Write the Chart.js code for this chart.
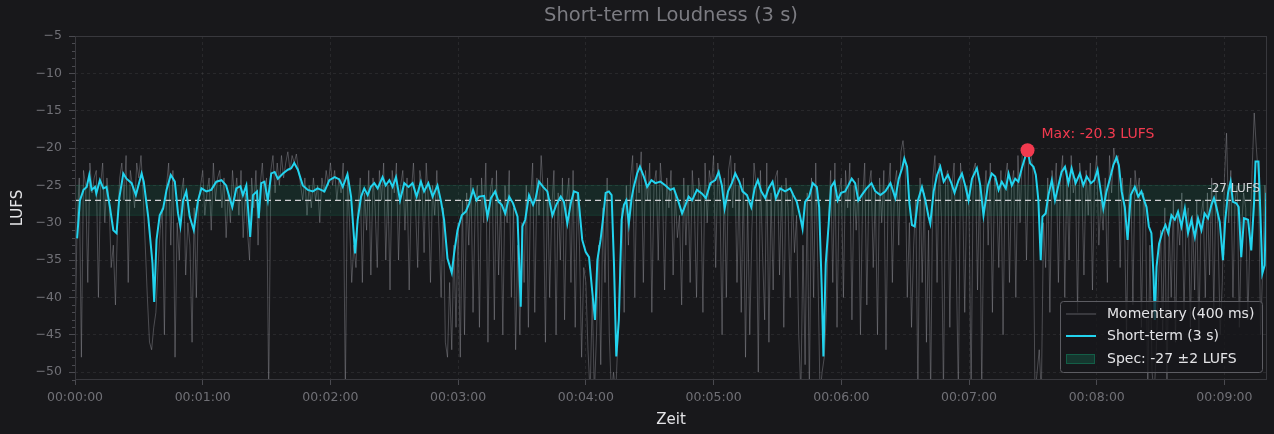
<!DOCTYPE html>
<html>
<head>
<meta charset="utf-8">
<script src="https://cdn.jsdelivr.net/npm/chart.js@4.4.0/dist/chart.umd.min.js"></script>
<style>
  html, body { margin: 0; padding: 0; background: #18181b; }
  canvas { display: block; }
</style>
</head>
<body>
<canvas id="chart" width="1274" height="434"></canvas>
<script>
// x axis in seconds, y axis in LUFS
var xTicks = [0, 60, 120, 180, 240, 300, 360, 420, 480, 540];
var yTicks = [-50, -45, -40, -35, -30, -25, -20, -15, -10, -5];
var xMax = 560;
var yMin = -51.05, yMax = -5;

var target = -27;
var tolerance = 2;

// momentary loudness, one value per second starting at 0 s
var momStep = 1;
var momentary = [
  -46,-30,-24,-48,-23,-25,-38,-22,-26,-24,
  -23,-40,-25,-22,-30,-24,-27,-36,-33,-41,
  -30,-24,-22,-27,-21,-38,-23,-25,-28,-22,
  -24,-21,-26,-33,-40,-46,-47,-44,-42,-36,
  -31,-28,-45,-25,-22,-33,-23,-48,-30,-35,
  -26,-24,-37,-30,-33,-46,-28,-40,-27,-25,
  -23,-29,-26,-24,-31,-22,-27,-24,-23,-28,
  -24,-32,-26,-30,-23,-27,-24,-29,-23,-32,
  -26,-31,-35,-24,-28,-23,-33,-25,-22,-27,
  -24,-53,-23,-21,-26,-22,-25,-21,-24,-22,
  -20.5,-23,-21,-22,-20.8,-23,-25,-27,-24,-29,
  -25,-28,-24,-27,-25,-30,-24,-26,-23,-25,
  -22,-25,-23,-27,-24,-26,-22,-53,-24,-30,
  -38,-33,-36,-28,-24,-38,-26,-31,-23,-37,
  -24,-28,-36,-23,-27,-22,-35,-25,-39,-23,
  -26,-22,-35,-25,-23,-31,-24,-39,-26,-22,
  -28,-36,-23,-25,-34,-22,-27,-38,-25,-29,
  -23,-31,-40,-28,-46,-48,-38,-47,-33,-44,
  -30,-48,-27,-45,-26,-33,-24,-42,-28,-25,
  -44,-24,-30,-22,-46,-26,-24,-43,-23,-37,
  -27,-45,-25,-30,-23,-40,-28,-47,-33,-45,
  -30,-38,-25,-44,-27,-22,-42,-24,-29,-21,
  -26,-46,-24,-40,-28,-23,-45,-26,-35,-24,
  -43,-27,-24,-38,-23,-44,-26,-33,-48,-36,
  -38,-47,-53,-40,-53,-45,-33,-49,-28,-38,
  -24,-45,-53,-50,-53,-46,-36,-28,-42,-25,
  -33,-24,-21,-40,-22,-26,-20.5,-38,-23,-27,
  -22,-42,-25,-23,-35,-22,-26,-39,-24,-28,
  -23,-37,-26,-32,-29,-41,-24,-33,-25,-38,
  -23,-28,-40,-24,-26,-42,-22,-30,-23,-25,
  -21,-36,-22,-27,-45,-24,-40,-23,-21,-28,
  -22,-38,-25,-42,-24,-48,-27,-45,-31,-22,
  -25,-50,-23,-34,-43,-22,-46,-26,-39,-24,
  -23,-37,-25,-44,-24,-28,-40,-26,-34,-29,
  -45,-53,-33,-49,-26,-53,-24,-40,-22,-36,
  -53,-50,-48,-42,-30,-23,-38,-22,-44,-26,
  -24,-40,-23,-28,-22,-43,-25,-31,-24,-45,
  -27,-22,-41,-25,-23,-36,-26,-45,-24,-30,
  -23,-47,-26,-22,-38,-25,-23,-33,-20.5,-19,
  -22,-40,-30,-44,-33,-27,-53,-24,-38,-26,
  -46,-31,-53,-24,-21,-38,-22,-29,-53,-24,
  -23,-44,-25,-22,-35,-53,-22,-26,-42,-25,
  -28,-53,-23,-22,-39,-24,-53,-27,-23,-33,
  -22,-42,-24,-26,-36,-23,-45,-24,-22,-38,
  -25,-23,-40,-21,-30,-21,-19.5,-35,-22,-20.5,
  -23,-53,-50,-47,-53,-30,-36,-24,-42,-23,
  -26,-22,-38,-24,-21,-40,-23,-35,-21,-26,
  -24,-42,-22,-25,-37,-23,-29,-22,-39,-24,
  -21,-33,-27,-31,-24,-38,-21,-26,-20,-22,
  -21,-36,-24,-29,-45,-27,-24,-41,-23,-26,
  -24,-44,-26,-30,-53,-33,-50,-53,-47,-38,
  -31,-45,-28,-53,-30,-40,-27,-46,-29,-33,
  -26,-42,-30,-28,-44,-29,-39,-27,-45,-29,
  -27,-40,-26,-37,-24,-42,-25,-31,-45,-38,
  -24,-18,-30,-23,-40,-27,-25,-44,-31,-26,
  -28,-43,-32,-23,-15.3,-20,-24,-45,-36,-25,
  -28
];

// short-term loudness (3 s window)
var stTime = [
  1, 2.3, 4, 5.5, 6.7, 7.8, 9.4, 10, 11.7, 13.3, 14.8, 16.4, 18, 19.5, 20.8, 22.7, 24.2, 26.6, 28.6, 31.3,
  32.3, 34.4, 36.4, 37.2, 38.3, 39.8, 41.4, 43, 45, 46.9, 48.4, 49.5, 50.8, 52.3, 53.9, 55.8, 57.8, 59.4, 61.7, 64,
  66.4, 68.8, 71, 73.9, 75.8, 77.7, 78.9, 80.5, 82.3, 83.6, 85.5, 86.3, 87.5, 89, 90.6, 92.2, 93.8, 95.3, 97.7, 100,
  101.6, 103, 104.7, 107, 109.4, 111.7, 114, 117.2, 119.5, 122, 124.2, 125.8, 128, 129.7, 131.6, 132.8, 134.4, 135.9, 137.5, 139,
  140.6, 142.2, 144.5, 146, 147.7, 149.2, 150.8, 152.7, 154.7, 156.7, 158.6, 160.5, 162.5, 164, 166, 168, 170.3, 172, 173.4, 175,
  177, 178.1, 179.7, 181.7, 183.6, 185.2, 187, 188.6, 189.8, 192.2, 193.8, 195.4, 197.4, 199, 200.5, 202.1, 204, 205.8, 207.9, 209.4,
  210.2, 211.5, 213.3, 215.2, 216.4, 218, 219.9, 221.9, 224.3, 226.1, 228.2, 229.7, 231.3, 232.9, 234.4, 236.3, 238.3, 239.9, 241.5, 243,
  244.3, 245.4, 246.9, 248, 249.3, 250.8, 252.1, 253.2, 254.3, 255.5, 256.8, 257.9, 259, 260.2, 261.5, 262.5, 264.1, 265.4, 267.2, 268.8,
  270.8, 272.7, 275, 277.4, 279.7, 281.3, 283.3, 285.2, 286.8, 288.3, 289.9, 292.2, 294.6, 296.4, 298.5, 300.8, 302.4, 303.9, 305.2, 306.8,
  308.6, 310.2, 312.1, 313.6, 315.7, 317.7, 319.3, 320.8, 322.4, 324.3, 325.8, 327.7, 329.3, 331.3, 333.6, 336, 337.5, 339.1, 340.7, 341.8,
  343, 344.9, 346.6, 348.5, 349.6, 350.8, 351.6, 352.7, 354, 355.2, 356.8, 358.3, 359.9, 361.8, 363.3, 364.9, 366.5, 368, 369.6, 371.9,
  374.2, 376, 378.4, 380.7, 383.1, 385.4, 387, 388.6, 389.6, 390.9, 392, 393.2, 394.5, 396, 397.9, 399.5, 401, 401.8, 403.4, 405,
  406.5, 408.1, 410.1, 411.7, 413.2, 415.1, 416.7, 418.2, 419.8, 421.4, 423.7, 425.3, 426.8, 428.9, 430.7, 432.3, 433.9, 435.4, 437.3, 438.6,
  440.1, 441.7, 443.2, 444.8, 446.4, 447.5, 448.7, 450.3, 451.4, 452.6, 453.7, 454.5, 456, 457.3, 458.9, 460.4, 462, 463.5, 465.1, 466.7,
  468.2, 470.1, 472.1, 473.7, 475.3, 477.3, 478.9, 480.4, 482, 483.1, 484.6, 486.2, 487.8, 489.3, 490.4, 491.7, 493.2, 494.5, 496, 497.9,
  499.5, 501, 502.3, 503.4, 504.5, 505.7, 506.7, 507.3, 508.1, 509.3, 510.9, 512.3, 513.6, 515.1, 516.7, 518.2, 519.8, 521.4, 522.9, 524.5,
  526.1, 527.6, 529.2, 530.7, 532.3, 533.9, 535.1, 536.2, 537.8, 539.3, 540.4, 541.7, 542.9, 544, 545.6, 546.7, 547.9, 549.2, 551.1, 552.6,
  553.9, 554.6, 556, 557, 557.8, 558.9, 559.7
];
var stLufs = [
  -32.1, -27, -25.6, -25.2, -23.6, -25.6, -25.2, -26.1, -24.3, -25.4, -25.2, -27.9, -31, -31.4, -26.7, -23.4, -24.1, -24.7, -26.3, -23.4,
  -24.5, -29.2, -35.4, -40.6, -32.3, -29, -28.1, -25.6, -23.6, -24.5, -28.75, -30.5, -27, -25.8, -29.2, -31, -27, -25.4, -25.8, -25.6,
  -24.5, -24.3, -25, -27.9, -25.4, -25.1, -26.3, -25, -31.9, -26.3, -25.8, -29.4, -24.7, -24.5, -27, -23.4, -23.2, -24.1, -23.4, -22.9,
  -22.7, -22, -22.9, -25, -25.6, -25.8, -25.4, -25.8, -24.3, -23.9, -24.2, -25.2, -23.5, -26.5, -34.1, -29.6, -26.5, -25.4, -26.3, -25.2,
  -24.7, -25.4, -23.9, -25, -24.3, -25.2, -23.9, -27, -24.7, -25.2, -24.7, -26.5, -24.5, -25.8, -24.7, -26.5, -25, -27.2, -29.6, -34.8,
  -36.7, -34.1, -31, -29, -28.5, -27.4, -25.6, -27, -26.5, -26.4, -29.2, -26.7, -25.8, -27.2, -27.6, -28.75, -26.5, -27.4, -29.2, -41.25,
  -30.5, -29.6, -26.3, -27.6, -26.7, -24.5, -25.2, -25.8, -29, -27.6, -26.5, -27.2, -30.1, -27.4, -25.8, -26, -32.3, -33.9, -34.6, -39.2,
  -43, -35, -32.3, -29.6, -26, -25.8, -26.3, -35.4, -47.9, -43, -29.6, -27.6, -27, -30.1, -26.7, -25.2, -23.4, -22.5, -23.8, -25.2,
  -24.3, -24.7, -24.5, -25, -25.6, -25.4, -27, -28.75, -27.6, -26.5, -27, -25.6, -26.1, -26.7, -24.7, -24.3, -23.2, -25, -28.1, -25.8,
  -24.7, -23.4, -24.5, -25.8, -26.3, -27.9, -25.4, -24.3, -25.8, -26.7, -25.4, -24.5, -26.7, -25.4, -25.8, -25.4, -26.3, -27.2, -29.2, -30.8,
  -27.2, -26.5, -24.7, -25.2, -27.9, -38.6, -47.9, -35.4, -30.5, -25.2, -24.5, -27, -26, -25.8, -25, -24.1, -24.7, -27, -26.3, -25.4,
  -24.7, -25.8, -26.3, -25.8, -24.7, -26.7, -24.1, -22.7, -21.4, -22.5, -27.4, -30.3, -30.5, -27, -25.2, -27, -29.2, -30.1, -25.8, -23.6,
  -22.5, -24.5, -23.6, -24.7, -26, -24.3, -23.4, -25, -27, -24.1, -22.7, -25, -29, -25, -23.4, -23.8, -25.6, -24.5, -25.4, -23.4,
  -25, -24.1, -24.5, -22.7, -21.2, -20.3, -22.05, -22.5, -23.6, -27, -35, -29.2, -28.75, -26.3, -24.3, -27, -25, -23.2, -22.5, -24.7,
  -22.7, -24.7, -23.4, -25, -23.8, -24.7, -24.3, -22.9, -26, -28.1, -25.8, -24.1, -22.3, -21.25, -22.3, -25.8, -27.9, -32.3, -26.3, -25.2,
  -26.5, -25.8, -27, -27.9, -30.5, -31.4, -37.2, -43, -35.9, -32.8, -31.2, -30.3, -31.4, -29, -29.6, -28.5, -30.5, -28.1, -31.4, -29.6,
  -31.9, -29.4, -31, -28.75, -29.4, -27.6, -26.7, -27.9, -29.9, -35, -29.6, -26, -24.5, -27.2, -27.4, -27.9, -34.6, -29.4, -29.6, -33.7,
  -27.4, -21.8, -21.8, -29.6, -36.8, -35.7, -26
];

var maxIdx = 0;
for (var i = 1; i < stLufs.length; i++) if (stLufs[i] > stLufs[maxIdx]) maxIdx = i;

function fmtTime(s)
{
  var h = Math.floor(s / 3600), m = Math.floor(s / 60) % 60, sec = Math.round(s % 60);
  function p(n) { return (n < 10 ? '0' : '') + n; }
  return p(h) + ':' + p(m) + ':' + p(sec);
}

var FONT = '"DejaVu Sans", sans-serif';
var BG = '#18181b';
var CYAN = '#22d3ee';
var RED = '#f23a4f';
var GREEN_FILL = 'rgba(16,185,129,0.11)';
var GRAY_LINE = 'rgba(150,150,158,0.42)';

var momData = momentary.map(function (v, i) { return { x: i * momStep, y: v }; });
var stData = stTime.map(function (t, i) { return { x: t, y: stLufs[i] }; });

var decor = {
  id: 'decor',
  beforeDraw: function (chart) {
    var c = chart.ctx;
    c.save();
    c.fillStyle = BG;
    c.fillRect(0, 0, chart.width, chart.height);
    c.restore();
  },
  afterDraw: function (chart) {
    var c = chart.ctx, a = chart.chartArea;
    var xs = chart.scales.x, ys = chart.scales.y;
    c.save();
    // frame
    c.strokeStyle = '#38383d';
    c.lineWidth = 1;
    c.strokeRect(a.left + 0.5, a.top + 0.5, a.right - a.left - 1, a.bottom - a.top - 1);
    // minor ticks on y
    c.strokeStyle = '#4a4a50';
    c.beginPath();
    for (var v = Math.ceil(yMin); v <= yMax; v++) {
      if (v % 5 === 0) continue;
      var py = Math.round(ys.getPixelForValue(v)) + 0.5;
      c.moveTo(a.left - 3, py);
      c.lineTo(a.left, py);
    }
    c.stroke();
    // title
    c.fillStyle = '#7c7c82';
    c.font = '19.5px ' + FONT;
    c.textAlign = 'center';
    c.textBaseline = 'middle';
    c.fillText('Short-term Loudness (3 s)', (a.left + a.right) / 2, 16);
    // target label
    c.fillStyle = '#d4d4d8';
    c.font = '12px ' + FONT;
    c.textAlign = 'right';
    c.fillText(target + ' LUFS', a.right - 7, ys.getPixelForValue(target) - 11);
    // max label
    var mx = xs.getPixelForValue(stTime[maxIdx]), my = ys.getPixelForValue(stLufs[maxIdx]);
    c.fillStyle = RED;
    c.font = '14px ' + FONT;
    c.textAlign = 'left';
    c.fillText('Max: ' + stLufs[maxIdx].toFixed(1) + ' LUFS', mx + 14, my - 16);
    // legend
    var lx = 1060.5, ly = 301.5, lw = 202, lh = 71;
    c.beginPath();
    c.roundRect(lx, ly, lw, lh, 3);
    c.fillStyle = 'rgba(24,24,27,0.8)';
    c.fill();
    c.strokeStyle = '#5c5c62';
    c.lineWidth = 1;
    c.stroke();
    c.font = '14px ' + FONT;
    c.textBaseline = 'middle';
    c.fillStyle = '#e4e4e7';
    c.strokeStyle = 'rgba(150,150,158,0.55)';
    c.lineWidth = 1;
    c.beginPath(); c.moveTo(1066, 314); c.lineTo(1096, 314); c.stroke();
    c.fillText('Momentary (400 ms)', 1107, 314);
    c.strokeStyle = CYAN;
    c.lineWidth = 2;
    c.beginPath(); c.moveTo(1066, 336); c.lineTo(1096, 336); c.stroke();
    c.fillText('Short-term (3 s)', 1107, 336);
    c.fillStyle = 'rgba(16,185,129,0.2)';
    c.fillRect(1066, 354, 29, 10);
    c.strokeStyle = 'rgba(16,185,129,0.3)';
    c.lineWidth = 1;
    c.strokeRect(1066.5, 354.5, 28, 9);
    c.fillStyle = '#e4e4e7';
    c.fillText('Spec: ' + target + ' \u00b1' + tolerance + ' LUFS', 1107, 359);
    c.restore();
  }
};

var chart = new Chart(document.getElementById('chart').getContext('2d'), {
  type: 'line',
  data: {
    datasets: [
      {
        label: 'Max',
        data: [{ x: stTime[maxIdx], y: stLufs[maxIdx] }],
        showLine: false,
        pointRadius: 7,
        pointBackgroundColor: RED,
        pointBorderWidth: 0,
        order: 0
      },
      {
        label: 'Short-term (3 s)',
        data: stData,
        borderColor: CYAN,
        borderWidth: 2,
        pointRadius: 0,
        tension: 0,
        order: 1
      },
      {
        label: 'Target',
        data: [{ x: 0, y: target }, { x: xMax, y: target }],
        borderColor: '#cfcfd2',
        borderWidth: 1.2,
        borderDash: [6, 4],
        pointRadius: 0,
        order: 2
      },
      {
        label: 'Spec high',
        data: [{ x: 0, y: target + tolerance }, { x: xMax, y: target + tolerance }],
        borderColor: 'rgba(16,185,129,0.16)',
        borderWidth: 1,
        pointRadius: 0,
        fill: false,
        order: 4
      },
      {
        label: 'Spec low',
        data: [{ x: 0, y: target - tolerance }, { x: xMax, y: target - tolerance }],
        borderColor: 'rgba(16,185,129,0.16)',
        borderWidth: 1,
        pointRadius: 0,
        backgroundColor: GREEN_FILL,
        fill: '-1',
        order: 3
      },
      {
        label: 'Momentary (400 ms)',
        data: momData,
        borderColor: GRAY_LINE,
        borderWidth: 1,
        pointRadius: 0,
        tension: 0,
        order: 5
      }
    ]
  },
  options: {
    responsive: false,
    animation: false,
    layout: { padding: { top: 36, right: 4.5, bottom: 0, left: 0 } },
    plugins: {
      legend: { display: false },
      tooltip: { enabled: false },
      title: { display: false }
    },
    scales: {
      x: {
        type: 'linear',
        min: 0,
        max: xMax,
        afterBuildTicks: function (s) { s.ticks = xTicks.map(function (v) { return { value: v }; }); },
        afterFit: function (s) { s.height = 54; },
        ticks: {
          color: '#707076',
          font: { family: FONT, size: 12.5 },
          padding: 5,
          maxRotation: 0,
          callback: function (v) { return fmtTime(v); }
        },
        grid: {
          color: 'rgba(255,255,255,0.07)',
          tickColor: '#4a4a50',
          tickLength: 5
        },
        border: { display: false, dash: [3, 3] },
        title: {
          display: true,
          text: 'Zeit',
          color: '#e4e4e7',
          font: { family: FONT, size: 15 },
          padding: { top: 0, bottom: 5 }
        }
      },
      y: {
        min: yMin,
        max: yMax,
        afterBuildTicks: function (s) { s.ticks = yTicks.map(function (v) { return { value: v }; }); },
        afterFit: function (s) { s.width = 75; },
        ticks: {
          color: '#707076',
          font: { family: FONT, size: 12.5 },
          padding: 7,
          callback: function (v) { return String(v).replace('-', '\u2212'); }
        },
        grid: {
          color: 'rgba(255,255,255,0.07)',
          tickColor: '#4a4a50',
          tickLength: 6
        },
        border: { display: false, dash: [3, 3] },
        title: {
          display: true,
          text: 'LUFS',
          color: '#e4e4e7',
          font: { family: FONT, size: 15 },
          padding: { top: 9, bottom: 0 }
        }
      }
    }
  },
  plugins: [decor]
});
</script>
</body>
</html>
